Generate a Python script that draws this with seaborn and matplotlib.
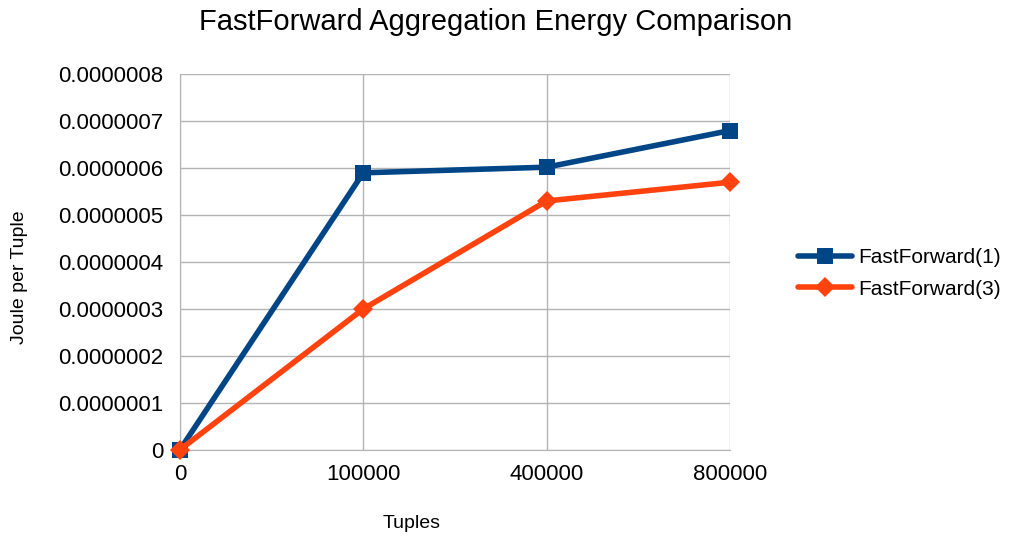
import pandas as pd
import seaborn as sns
import matplotlib.pyplot as plt

tuples = ["0", "100000", "400000", "800000"]
ff1 = [0.0, 5.9e-7, 6.02e-7, 6.8e-7]
ff3 = [0.0, 3.0e-7, 5.3e-7, 5.7e-7]
y_ticks = [0, 1e-7, 2e-7, 3e-7, 4e-7, 5e-7, 6e-7, 7e-7, 8e-7]
y_tick_labels = ["0", "0.0000001", "0.0000002", "0.0000003", "0.0000004",
                 "0.0000005", "0.0000006", "0.0000007", "0.0000008"]

sns.set_style("white")
plt.rcParams['font.family'] = ['Liberation Sans', 'DejaVu Sans']
plt.rcParams['text.color'] = 'black'
plt.rcParams['axes.labelcolor'] = 'black'
plt.rcParams['xtick.color'] = 'black'
plt.rcParams['ytick.color'] = 'black'

df = pd.DataFrame({"Tuples": tuples, "FastForward(1)": ff1, "FastForward(3)": ff3})

fig = plt.figure(figsize=(10.11, 5.38), dpi=100)
ax = fig.add_axes([0.178, 0.164, 0.544, 0.698])

sns.lineplot(data=df, x="Tuples", y="FastForward(1)", ax=ax, color="#004586",
             linewidth=4, marker="s", markersize=12, markeredgewidth=0,
             label="FastForward(1)", clip_on=False, zorder=4)
sns.lineplot(data=df, x="Tuples", y="FastForward(3)", ax=ax, color="#ff420e",
             linewidth=4, marker="D", markersize=10, markeredgewidth=0,
             label="FastForward(3)", clip_on=False, zorder=5)

ax.set_xlim(0, len(tuples) - 1)
ax.set_ylim(0, 8e-7)
ax.set_yticks(y_ticks)
ax.set_yticklabels(y_tick_labels)
ax.grid(True, color="#b3b3b3", linewidth=1)
ax.set_axisbelow(True)
for side in ["top", "right"]:
    ax.spines[side].set_visible(False)
for side in ["left", "bottom"]:
    ax.spines[side].set_color("#b3b3b3")
ax.tick_params(axis="both", labelsize=16, length=6, color="#b3b3b3", labelcolor="black", pad=4)
ax.tick_params(axis="y", pad=6)

ax.set_xlabel("Tuples", fontsize=14, va="center")
ax.set_ylabel("Joule per Tuple", fontsize=14, va="center")
ax.xaxis.set_label_coords(0.422, -0.197)
ax.yaxis.set_label_coords(-0.291, 0.46)
fig.suptitle("FastForward Aggregation Energy Comparison", fontsize=21, x=0.49, y=0.985)

ax.legend(loc="center left", bbox_to_anchor=(1.09, 0.47), frameon=False,
          fontsize=15, handlelength=2.6, labelspacing=0.6, handletextpad=0.3)

fig.savefig("out.png", dpi=100)
